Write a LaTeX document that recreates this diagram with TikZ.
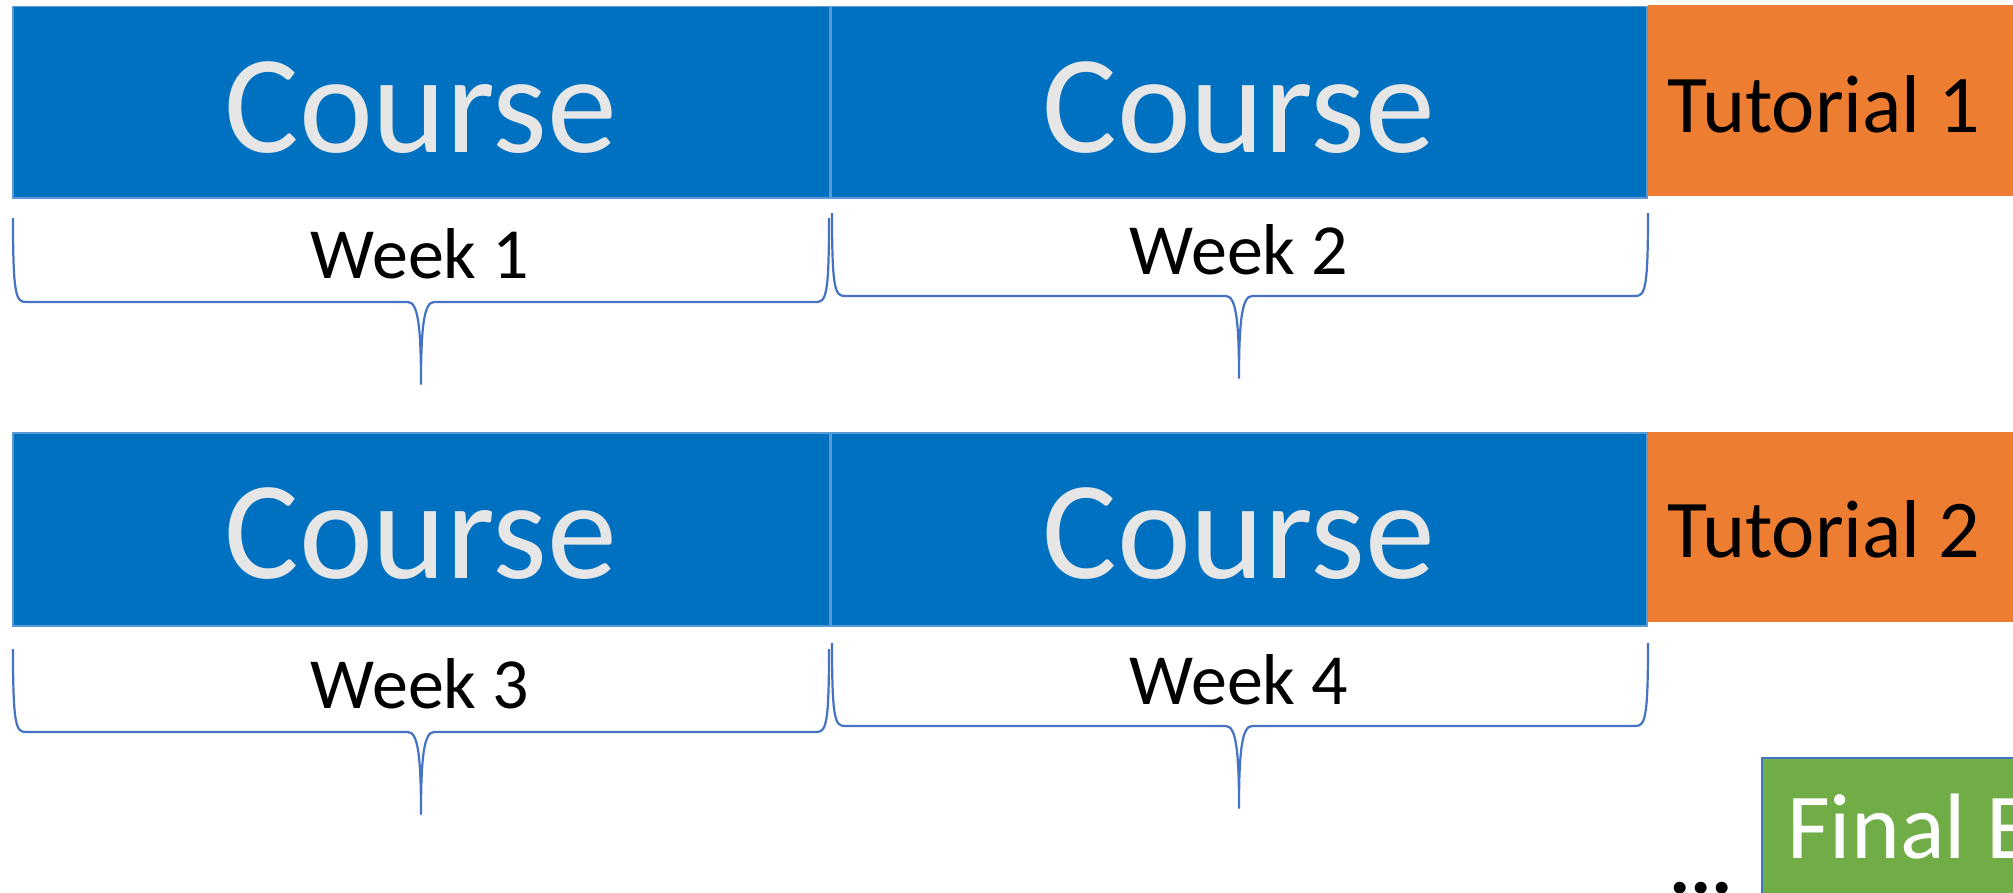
\documentclass[tikz,border=0pt]{standalone}
\usepackage{fontspec}
\setmainfont{Carlito}
\definecolor{cblue}{HTML}{0070C0}
\definecolor{corange}{HTML}{ED7D31}
\definecolor{cgreen}{HTML}{70AD47}
\definecolor{cgray}{HTML}{E7E6E6}
\definecolor{cbrace}{HTML}{4472C4}
\definecolor{cedge}{HTML}{5B9BD5}
\tikzset{
  coursebox/.style={fill=cblue, draw=cedge, line width=1.2pt},
  tutbox/.style={fill=corange},
  finbox/.style={fill=cgreen, draw=cbrace, line width=2pt},
  bracestyle/.style={draw=cbrace, line width=2.2pt, line join=round},
  coursetxt/.style={anchor=base, inner sep=0pt, text=cgray, font=\fontsize{140}{140}\selectfont},
  weektxt/.style={anchor=base, inner sep=0pt, text=black, font=\fontsize{72}{72}\selectfont},
  tuttxt/.style={anchor=base west, inner sep=0pt, text=black, font=\fontsize{82}{82}\selectfont},
  fintxt/.style={anchor=base west, inner sep=0pt, text=white, font=\fontsize{93}{93}\selectfont},
  dotstxt/.style={anchor=base west, inner sep=0pt, text=black, font=\fontsize{80}{80}\selectfont\bfseries},
}
\newcommand\wkbrace[6]{%
  \draw[bracestyle] (#1,#4) .. controls (#1,#5-6) and (#1+3,#5) .. (#1+13,#5)
    -- (#3-13,#5) .. controls (#3-3,#5) and (#3,#5+25) .. (#3,#6)
    .. controls (#3,#5+25) and (#3+3,#5) .. (#3+13,#5)
    -- (#2-13,#5) .. controls (#2-3,#5) and (#2,#5-6) .. (#2,#4);}
\begin{document}
\begin{tikzpicture}[x=1pt,y=-1pt]
\useasboundingbox (0,0) rectangle (2013,892);
\clip (0,0) rectangle (2013,892);
% row 1
\draw[coursebox] (13,6.5) rectangle (829.5,198);
\draw[coursebox] (831,6.5) rectangle (1647,198);
\fill[tutbox] (1648,5) rectangle (2020,196);
\node[coursetxt] (c1) at (421,152) {Course};
\node[coursetxt] (c2) at (1239,152) {Course};
\node[tuttxt] (t1) at (1667,132) {Tutorial 1};
\wkbrace{13}{829}{421}{218}{302}{384}
\wkbrace{832}{1648}{1239}{213}{296}{378}
\node[weektxt] (w1) at (420,278) {Week 1};
\node[weektxt] (w2) at (1239,274) {Week 2};
% row 2
\draw[coursebox] (13,433) rectangle (829.5,626);
\draw[coursebox] (831,433) rectangle (1647,626);
\fill[tutbox] (1648,432) rectangle (2020,622);
\node[coursetxt] (c3) at (421,578) {Course};
\node[coursetxt] (c4) at (1239,578) {Course};
\node[tuttxt] (t2) at (1667,557) {Tutorial 2};
\wkbrace{13}{829}{421}{649}{732}{814}
\wkbrace{832}{1648}{1239}{643}{726}{808}
\node[weektxt] (w3) at (420,708) {Week 3};
\node[weektxt] (w4) at (1239,704) {Week 4};
% final
\draw[finbox] (1762,758) rectangle (2030,900);
\node[fintxt] (fin) at (1787,858) {Final Exam};
\node[dotstxt] (dots) at (1669,893) {...};
\end{tikzpicture}
\end{document}
